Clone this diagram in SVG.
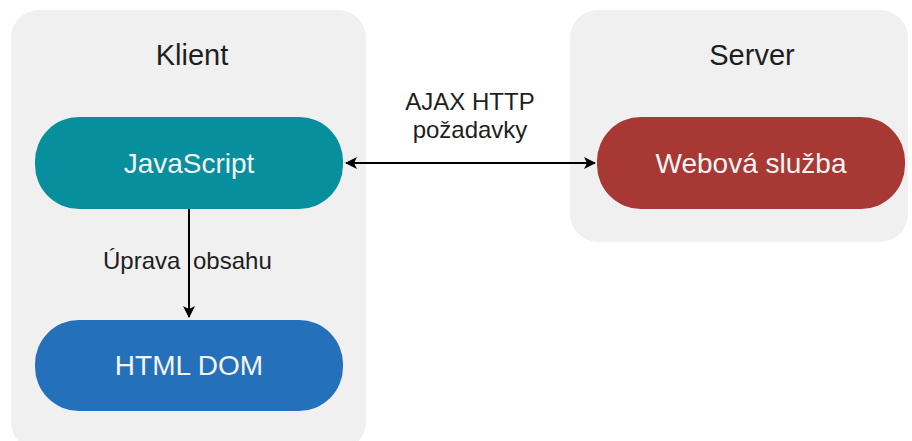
<svg xmlns="http://www.w3.org/2000/svg" width="912" height="441" viewBox="0 0 912 441">
  <style>
    .group { fill: #f0f0f0; }
    .title { font-family: "Liberation Sans", Arial, sans-serif; font-size: 29px; fill: #1e1e1e; text-anchor: middle; }
    .node-text { font-family: "Liberation Sans", Arial, sans-serif; font-size: 28px; fill: #f4f4f4; text-anchor: middle; }
    .label { font-family: "Liberation Sans", Arial, sans-serif; font-size: 24px; fill: #1e1e1e; }
    .edge { stroke: #000; stroke-width: 2; fill: none; }
  </style>
  <defs>
    <marker id="arrow" viewBox="0 0 12 12" refX="11" refY="6" markerWidth="12" markerHeight="12" markerUnits="userSpaceOnUse" orient="auto-start-reverse">
      <path d="M0,0 L12,6 L0,12 L3,6 z" fill="#000"/>
    </marker>
  </defs>

  <!-- containers -->
  <g id="klient">
    <rect class="group" x="11" y="10" width="355" height="440" rx="28"/>
    <text class="title" x="192" y="65">Klient</text>
  </g>
  <g id="server">
    <rect class="group" x="570" y="10" width="338" height="232" rx="28"/>
    <text class="title" x="752" y="65">Server</text>
  </g>

  <!-- nodes -->
  <g id="javascript">
    <rect x="35" y="117" width="308" height="92" rx="44" fill="#078f9e"/>
    <text class="node-text" x="189" y="173">JavaScript</text>
  </g>
  <g id="html-dom">
    <rect x="35" y="320" width="308" height="91" rx="44" fill="#2470bb"/>
    <text class="node-text" x="189" y="375">HTML DOM</text>
  </g>
  <g id="webova-sluzba">
    <rect x="597" y="117" width="308" height="92" rx="44" fill="#a83833"/>
    <text class="node-text" x="751" y="173">Webová služba</text>
  </g>

  <!-- connectors -->
  <g id="connectors">
    <path class="edge" d="M346,163 L595,163" marker-start="url(#arrow)" marker-end="url(#arrow)"/>
    <text class="label" x="470" y="110" text-anchor="middle">AJAX HTTP</text>
    <text class="label" x="470" y="138" text-anchor="middle">požadavky</text>
    <path class="edge" d="M189,209 L189,317" marker-end="url(#arrow)"/>
    <text class="label" x="103" y="269">Úprava</text>
    <text class="label" x="193" y="269">obsahu</text>
  </g>
</svg>
